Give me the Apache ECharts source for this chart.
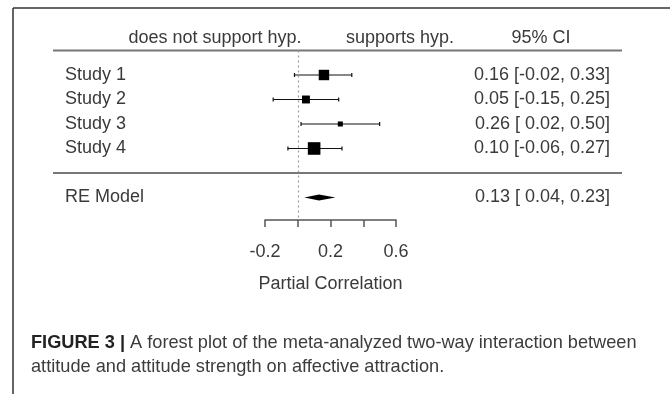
<!DOCTYPE html>
<html><head><meta charset="utf-8">
<script src="https://cdn.jsdelivr.net/npm/echarts@6/dist/echarts.min.js"></script>
<style>html,body{margin:0;padding:0;background:#fff}#c{width:670px;height:394px}</style>
</head><body><div id="c"></div>
<script>
// ---- data ----
const studies = ['Study 1', 'Study 2', 'Study 3', 'Study 4'];
const estimates = [0.16, 0.05, 0.26, 0.10];
const lower = [-0.02, -0.15, 0.02, -0.06];
const upper = [0.33, 0.25, 0.50, 0.27];
const weights = [29, 22, 14, 35];
const reLabel = 'RE Model';
const reEstimate = 0.13, reLower = 0.04, reUpper = 0.23;
const xTicks = [-0.2, 0, 0.2, 0.4, 0.6];
const xTickLabels = ['-0.2', '', '0.2', '', '0.6'];
const headers = ['does not support hyp.', 'supports hyp.', '95% CI'];
const xName = 'Partial Correlation';
const captionBold = 'FIGURE 3 |';
const captionLine1 = ' A forest plot of the meta-analyzed two-way interaction between';
const captionLine2 = 'attitude and attitude strength on affective attraction.';

// ---- helpers ----
const FONT = '"Liberation Sans", Arial, sans-serif';
const FS = 18;
const TXT = '#3a3a3a';
const reRow = 6;
const sepRow = 5;
function fmt(v) { const s = v.toFixed(2); return v >= 0 ? ' ' + s : s; }
function ciText(e, l, u) { return e.toFixed(2) + ' [' + fmt(l) + ', ' + u.toFixed(2) + ']'; }
const leftLabels = {}; const rightLabels = {};
studies.forEach((s, i) => { leftLabels[i + 1] = s; rightLabels[i + 1] = ciText(estimates[i], lower[i], upper[i]); });
leftLabels[reRow] = reLabel; rightLabels[reRow] = ciText(reEstimate, reLower, reUpper);

const studyData = studies.map((s, i) => [estimates[i], lower[i], upper[i], i + 1, weights[i]]);

const chart = echarts.init(document.getElementById('c'), null, { renderer: 'canvas' });
const option = {
  backgroundColor: '#fff',
  animation: false,
  grid: { left: 265, right: 274, top: 50.5, bottom: 174, containLabel: false },
  xAxis: {
    type: 'value', min: -0.2, max: 0.6, interval: 0.2, position: 'bottom',
    splitLine: { show: false },
    axisLine: { show: true, onZero: false, lineStyle: { color: '#555', width: 1.5 } },
    axisTick: { show: true, length: 7, lineStyle: { color: '#555', width: 1.5 } },
    axisLabel: {
      margin: 23, fontFamily: FONT, fontSize: FS, color: TXT,
      formatter: v => { const k = xTicks.findIndex(t => Math.abs(t - v) < 1e-9); return k >= 0 ? xTickLabels[k] : ''; }
    },
    name: xName, nameLocation: 'middle', nameGap: 55,
    nameTextStyle: { fontFamily: FONT, fontSize: FS, color: TXT }
  },
  yAxis: [
    {
      type: 'value', min: 0, max: 6.92, interval: 1, inverse: true, position: 'left',
      axisLine: { show: false }, axisTick: { show: false }, splitLine: { show: false },
      axisLabel: {
        align: 'left', margin: 200, fontFamily: FONT, fontSize: FS, color: TXT,
        showMaxLabel: false,
        formatter: v => leftLabels[Math.round(v)] && Math.abs(v - Math.round(v)) < 1e-9 ? leftLabels[Math.round(v)] : ''
      }
    },
    {
      type: 'value', min: 0, max: 6.92, interval: 1, inverse: true, position: 'right',
      axisLine: { show: false }, axisTick: { show: false }, splitLine: { show: false },
      axisLabel: {
        align: 'right', margin: 214, fontFamily: FONT, fontSize: FS, color: TXT,
        showMaxLabel: false,
        formatter: v => rightLabels[Math.round(v)] && Math.abs(v - Math.round(v)) < 1e-9 ? rightLabels[Math.round(v)] : ''
      }
    }
  ],
  series: [
    {
      type: 'custom', clip: false,
      data: studyData,
      renderItem: (params, api) => {
        const e = api.value(0), l = api.value(1), u = api.value(2), r = api.value(3), w = api.value(4);
        const pL = api.coord([l, r]), pU = api.coord([u, r]), pE = api.coord([e, r]);
        const s = w * 0.36;
        const st = { stroke: '#111', lineWidth: 1.2 };
        return {
          type: 'group', children: [
            { type: 'line', shape: { x1: pL[0], y1: pL[1], x2: pU[0], y2: pU[1] }, style: st },
            { type: 'line', shape: { x1: pL[0], y1: pL[1] - 2, x2: pL[0], y2: pL[1] + 2 }, style: st },
            { type: 'line', shape: { x1: pU[0], y1: pU[1] - 2, x2: pU[0], y2: pU[1] + 2 }, style: st },
            { type: 'rect', shape: { x: pE[0] - s / 2, y: pE[1] - s / 2, width: s, height: s }, style: { fill: '#000' } }
          ]
        };
      },
      markLine: {
        silent: true, symbol: 'none', label: { show: false },
        lineStyle: { color: '#999', type: [2, 3], width: 1.2 },
        data: [{ xAxis: 0 }]
      }
    },
    {
      type: 'custom', clip: false,
      data: [[reEstimate, reLower, reUpper, reRow]],
      renderItem: (params, api) => {
        const e = api.value(0), l = api.value(1), u = api.value(2), r = api.value(3);
        const pL = api.coord([l, r]), pU = api.coord([u, r]), pE = api.coord([e, r]);
        const h = 3;
        return {
          type: 'polygon',
          shape: { points: [[pL[0], pL[1]], [pE[0], pE[1] - h], [pU[0], pU[1]], [pE[0], pE[1] + h]] },
          style: { fill: '#000' }
        };
      }
    }
  ]
};
chart.setOption(option);

const yHead = chart.convertToPixel({ gridIndex: 0 }, [0, 0])[1];
const ySep = chart.convertToPixel({ gridIndex: 0 }, [0, sepRow])[1];
const ruleStyle = { stroke: '#777', lineWidth: 2 };
const hFont = FS + 'px ' + FONT;
chart.setOption({
  graphic: [
    { type: 'line', shape: { x1: 13, y1: 8, x2: 670, y2: 8 }, style: { stroke: '#333', lineWidth: 1.5 } },
    { type: 'line', shape: { x1: 13, y1: 8, x2: 13, y2: 394 }, style: { stroke: '#333', lineWidth: 1.5 } },
    { type: 'line', shape: { x1: 53, y1: yHead, x2: 622, y2: yHead }, style: ruleStyle },
    { type: 'line', shape: { x1: 53, y1: ySep, x2: 622, y2: ySep }, style: ruleStyle },
    { type: 'text', x: 215, y: 38, style: { text: headers[0], align: 'center', verticalAlign: 'middle', font: hFont, fill: TXT } },
    { type: 'text', x: 400, y: 38, style: { text: headers[1], align: 'center', verticalAlign: 'middle', font: hFont, fill: TXT } },
    { type: 'text', x: 541, y: 38, style: { text: headers[2], align: 'center', verticalAlign: 'middle', font: hFont, fill: TXT } },
    {
      type: 'text', x: 31, y: 330.5,
      style: {
        text: '{b|' + captionBold + '}{n|' + captionLine1 + '}\n{n|' + captionLine2 + '}',
        verticalAlign: 'top', lineHeight: 24,
        rich: {
          b: { font: 'bold 18.2px ' + FONT, fill: '#222', lineHeight: 24 },
          n: { font: '18.2px ' + FONT, fill: '#3c3c3c', lineHeight: 24 }
        }
      }
    }
  ]
});
</script>
</body></html>
